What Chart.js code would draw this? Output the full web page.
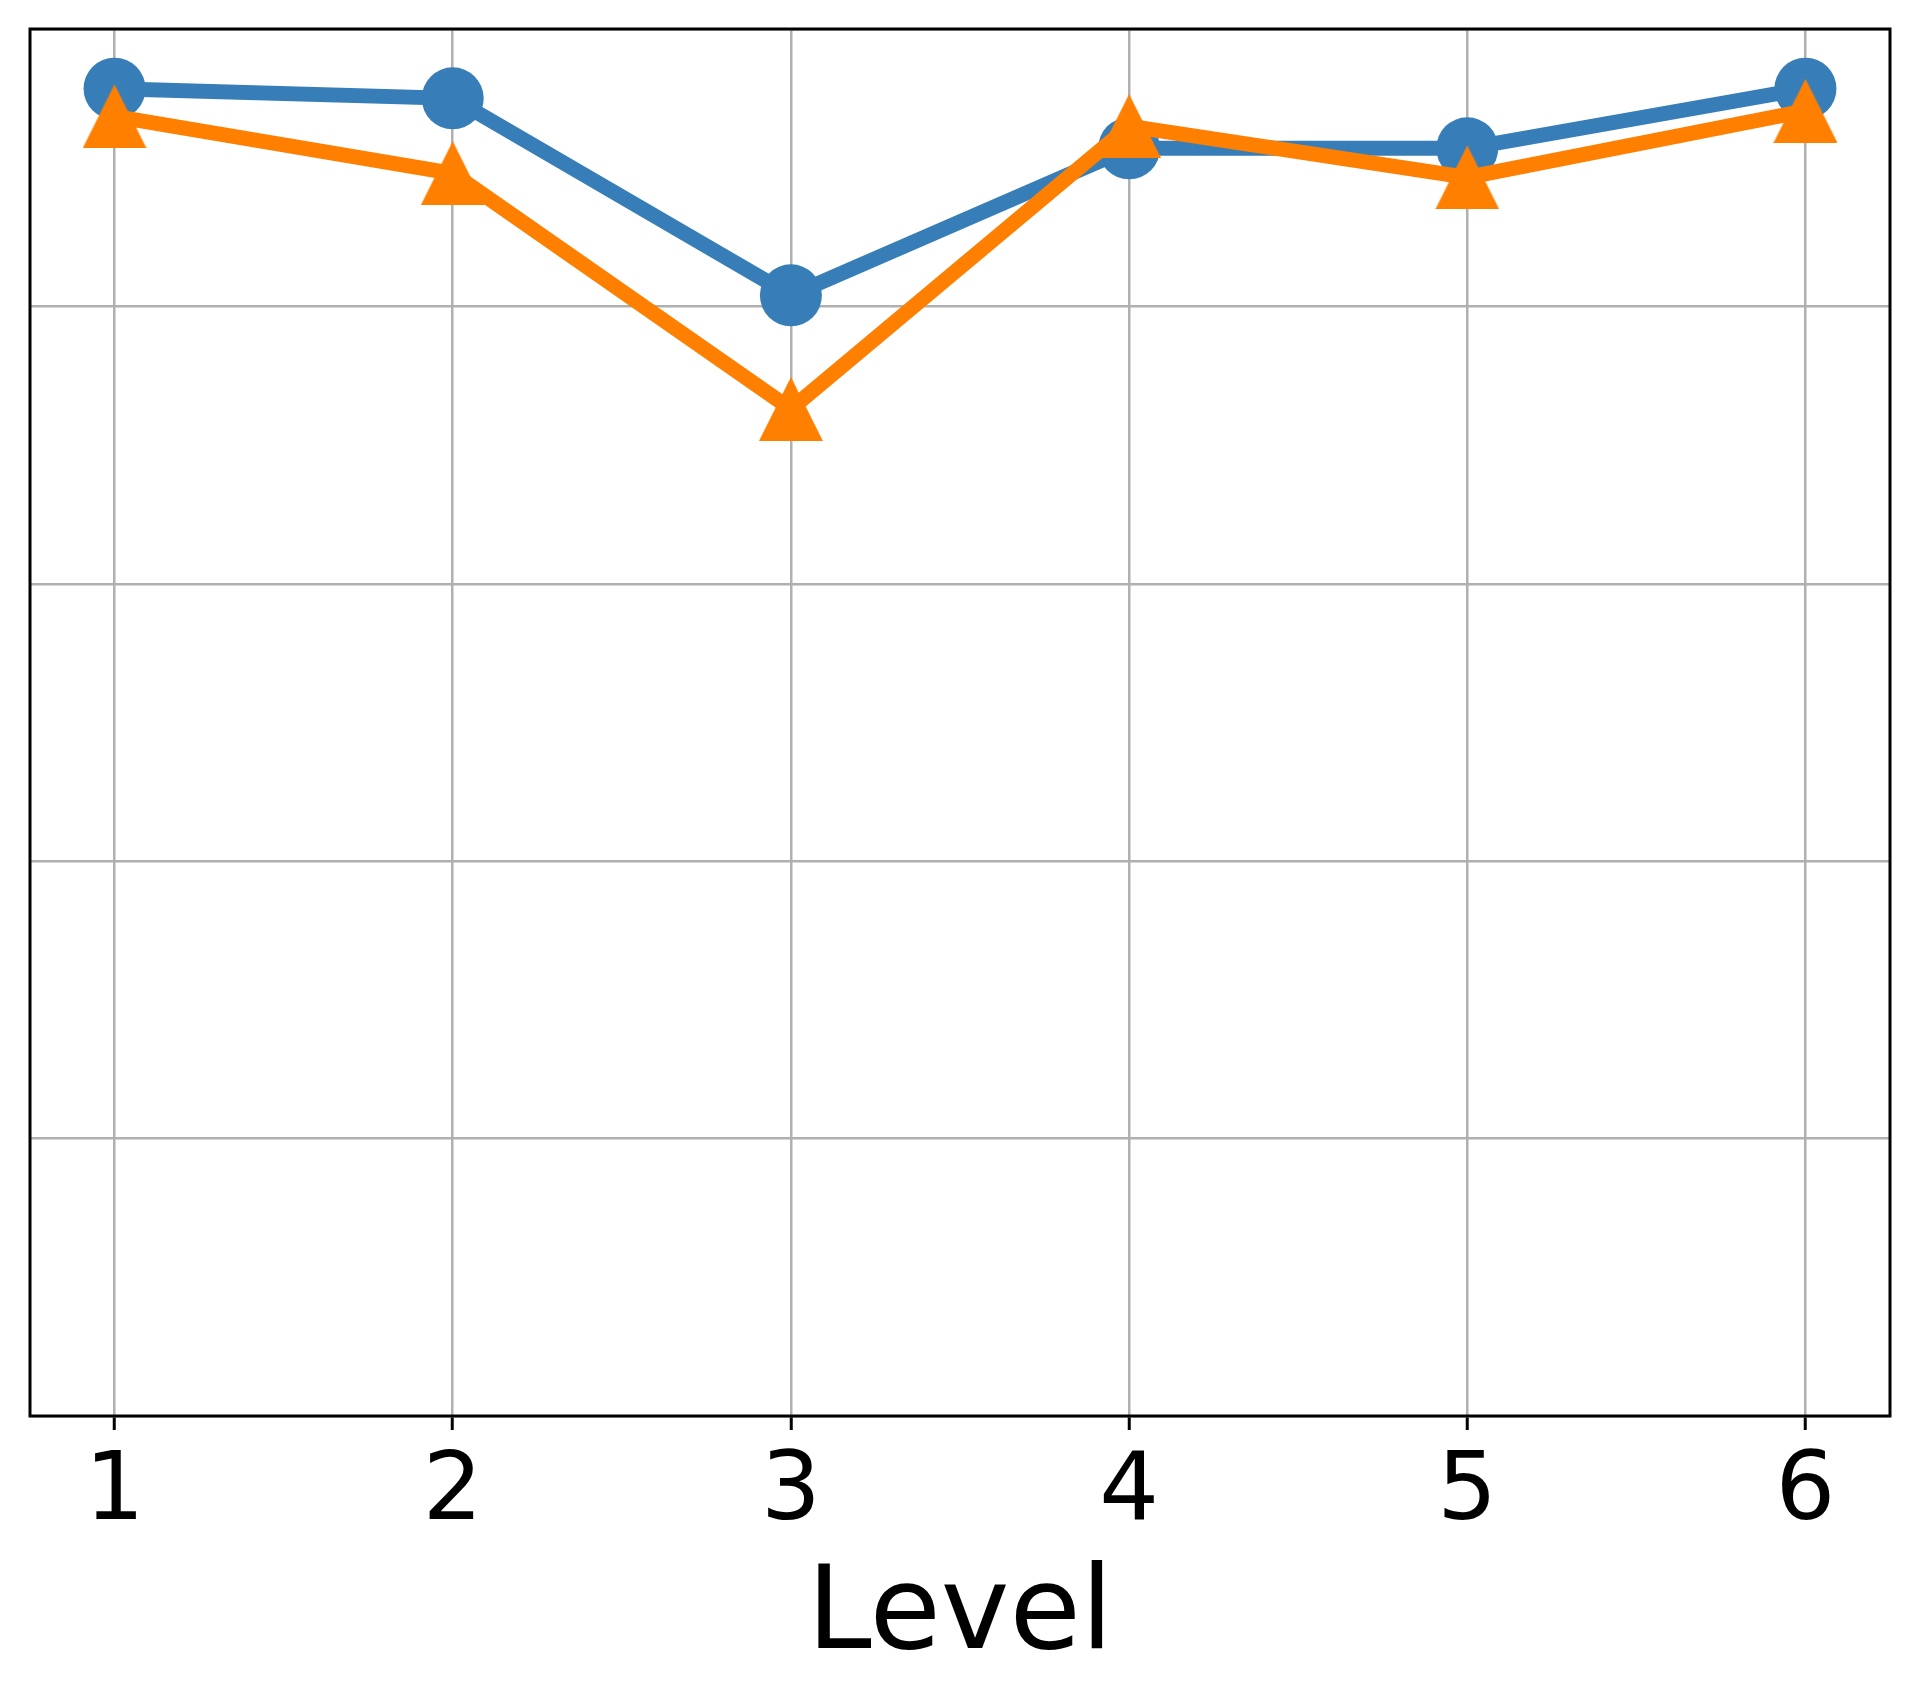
<!DOCTYPE html>
<html>
<head>
<meta charset="utf-8">
<script src="https://cdn.jsdelivr.net/npm/chart.js@4.4.1/dist/chart.umd.min.js"></script>
<style>
  html, body { margin: 0; padding: 0; background: #ffffff; }
  #wrap { width: 1919px; height: 1703px; }
</style>
</head>
<body>
<div id="wrap"><canvas id="chart" width="1919" height="1703"></canvas></div>
<script>
const levels = [1, 2, 3, 4, 5, 6];
const blueValues = [0.957, 0.950, 0.808, 0.914, 0.914, 0.957];
const orangeValues = [0.937, 0.896, 0.726, 0.930, 0.893, 0.941];
const yGridTicks = [0, 0.2, 0.4, 0.6, 0.8, 1.0];

const BLUE = '#377eb8';
const ORANGE = '#ff7f00';
const FONT = 'DejaVu Sans';

// matplotlib-like '^' marker: same width and height, centred on its box
const makeTriangle = (size, color) => {
  const c = document.createElement('canvas');
  c.width = size;
  c.height = size;
  const ctx = c.getContext('2d');
  ctx.fillStyle = color;
  ctx.beginPath();
  ctx.moveTo(size / 2, 0);
  ctx.lineTo(size, size);
  ctx.lineTo(0, size);
  ctx.closePath();
  ctx.fill();
  return c;
};

const framePlugin = {
  id: 'frame',
  afterDraw(chart) {
    const { ctx, chartArea } = chart;
    ctx.save();
    ctx.strokeStyle = '#000000';
    ctx.lineWidth = 3;
    ctx.strokeRect(chartArea.left, chartArea.top,
      chartArea.right - chartArea.left, chartArea.bottom - chartArea.top);
    ctx.restore();
  },
};

new Chart(document.getElementById('chart'), {
  type: 'line',
  plugins: [framePlugin],
  data: {
    datasets: [
      {
        data: levels.map((x, i) => ({ x, y: orangeValues[i] })),
        borderColor: ORANGE,
        borderWidth: 15,
        pointStyle: makeTriangle(64, ORANGE),
        pointRadius: 32,
        order: 0,
      },
      {
        data: levels.map((x, i) => ({ x, y: blueValues[i] })),
        borderColor: BLUE,
        borderWidth: 15,
        pointStyle: 'circle',
        pointRadius: 31,
        pointBorderWidth: 0,
        pointBackgroundColor: BLUE,
        order: 1,
      },
    ],
  },
  options: {
    responsive: false,
    animation: false,
    devicePixelRatio: 1,
    layout: { autoPadding: false, padding: { left: 30, right: 29, top: 29, bottom: 0 } },
    plugins: {
      legend: { display: false },
      tooltip: { enabled: false },
    },
    elements: { line: { tension: 0 } },
    scales: {
      x: {
        type: 'linear',
        min: 0.75,
        max: 6.25,
        afterBuildTicks: (scale) => { scale.ticks = levels.map((v) => ({ value: v })); },
        afterFit: (scale) => { scale.height = 287; },
        border: { display: false },
        grid: {
          color: '#b0b0b0',
          lineWidth: 2.5,
          tickColor: '#000000',
          tickWidth: 3,
          tickLength: 14,
        },
        ticks: {
          color: '#000000',
          padding: 8,
          maxRotation: 0,
          autoSkip: false,
          font: { family: FONT, size: 94 },
        },
        title: {
          display: true,
          text: 'Level',
          color: '#000000',
          padding: { top: 0, bottom: 16 },
          font: { family: FONT, size: 116 },
        },
      },
      y: {
        min: 0,
        max: 1,
        afterBuildTicks: (scale) => { scale.ticks = yGridTicks.map((v) => ({ value: v })); },
        afterFit: (scale) => { scale.width = 0; },
        border: { display: false },
        grid: { color: '#b0b0b0', lineWidth: 2.5, drawTicks: false },
        ticks: { display: false },
      },
    },
  },
});
</script>
</body>
</html>
